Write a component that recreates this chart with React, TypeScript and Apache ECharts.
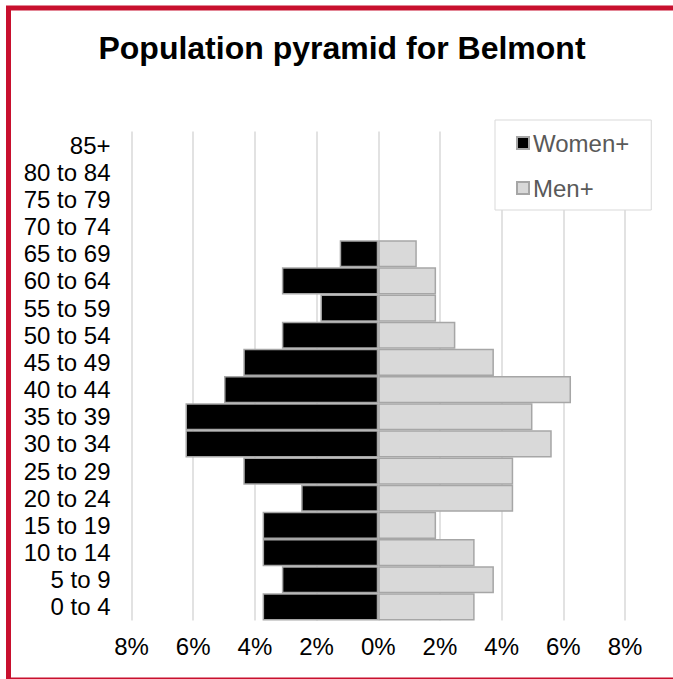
import React, { useEffect, useRef } from "react";
import * as echarts from "echarts";

const ageGroups = [
  "0 to 4", "5 to 9", "10 to 14", "15 to 19", "20 to 24", "25 to 29",
  "30 to 34", "35 to 39", "40 to 44", "45 to 49", "50 to 54", "55 to 59",
  "60 to 64", "65 to 69", "70 to 74", "75 to 79", "80 to 84", "85+",
];
const women = [3.75, 3.125, 3.75, 3.75, 2.5, 4.375, 6.25, 6.25, 5.0, 4.375, 3.125, 1.875, 3.125, 1.25, 0, 0, 0, 0];
const men = [3.125, 3.75, 3.125, 1.875, 4.375, 4.375, 5.625, 5.0, 6.25, 3.75, 2.5, 1.875, 1.875, 1.25, 0, 0, 0, 0];
const seriesNames = ["Women+", "Men+"];
const titleText = "Population pyramid for Belmont";

const FONT = "'Liberation Sans', Arial, Helvetica, sans-serif";

export default function App() {
  const ref = useRef<HTMLDivElement>(null);
  useEffect(() => {
    if (!ref.current) return;
    const chart = echarts.init(ref.current, null, { renderer: "svg" });
    chart.setOption({
      animation: false,
      backgroundColor: "#ffffff",
      title: {
        text: titleText,
        left: 337,
        textAlign: "center",
        top: 27,
        textStyle: { fontFamily: FONT, fontSize: 32, fontWeight: "bold", color: "#000" },
      },
      graphic: [
        {
          type: "rect",
          shape: { x: 8.5, y: 8, width: 672, height: 672 },
          style: { fill: "none", stroke: "#c8102e", lineWidth: 5 },
          silent: true,
          z: 100,
        },
      ],
      legend: {
        orient: "vertical",
        left: 495,
        top: 120,
        itemWidth: 12,
        itemHeight: 12,
        itemGap: 21,
        padding: [11, 22, 10, 21],
        backgroundColor: "#ffffff",
        borderColor: "#d9d9d9",
        borderWidth: 1,
        icon: "rect",
        data: seriesNames,
        textStyle: { fontFamily: FONT, fontSize: 24, color: "#595959", padding: [0, 0, 0, -1] },
        z: 10,
      },
      grid: { left: 131.5, right: 48, top: 131.5, bottom: 58.5, containLabel: false },
      xAxis: {
        type: "value",
        min: -8,
        max: 8,
        interval: 2,
        axisLine: { show: false },
        axisTick: { show: false },
        splitLine: { show: true, lineStyle: { color: "#d9d9d9", width: 1.5 } },
        axisLabel: {
          margin: 14,
          fontFamily: FONT,
          fontSize: 24,
          color: "#000",
          formatter: (v: number) => Math.abs(v) + "%",
        },
      },
      yAxis: {
        type: "category",
        data: ageGroups,
        axisLine: { show: false, onZero: false },
        axisTick: { show: false },
        splitLine: { show: false },
        axisLabel: { interval: 0, margin: 21, fontFamily: FONT, fontSize: 24, color: "#000" },
      },
      series: [
        {
          name: seriesNames[0],
          type: "bar",
          stack: "pop",
          barCategoryGap: 0,
          data: women.map((v) => (v === 0 ? null : -v)),
          itemStyle: { color: "#000000", borderColor: "#a6a6a6", borderWidth: 1.5 },
        },
        {
          name: seriesNames[1],
          type: "bar",
          stack: "pop",
          barCategoryGap: 0,
          data: men.map((v) => (v === 0 ? null : v)),
          itemStyle: { color: "#d9d9d9", borderColor: "#a6a6a6", borderWidth: 1.5 },
        },
      ],
    });
    return () => chart.dispose();
  }, []);
  return (
    <div
      ref={ref}
      style={{ position: "absolute", left: 0, top: 0, width: 673, height: 679 }}
    />
  );
}
